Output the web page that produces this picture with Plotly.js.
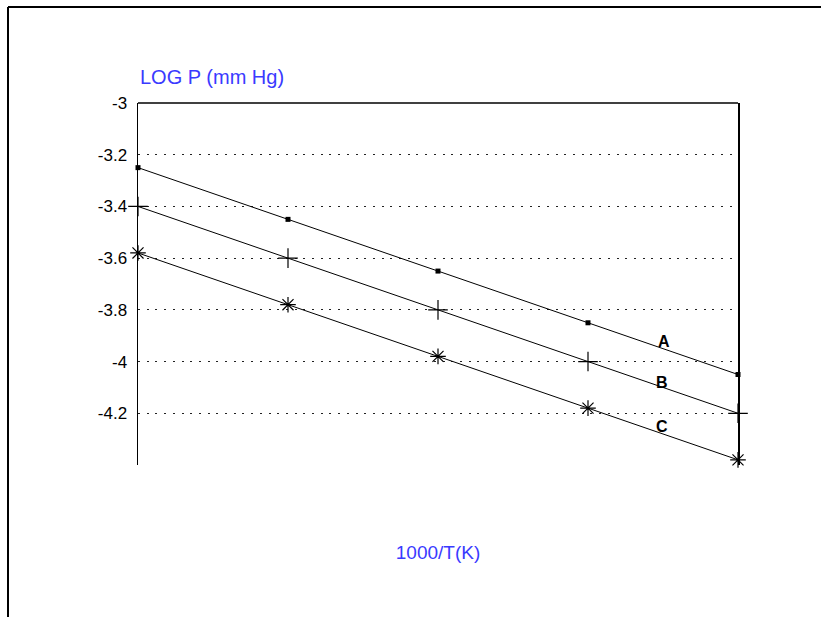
<!DOCTYPE html>
<html>
<head>
<meta charset="utf-8">
<script src="https://cdn.plot.ly/plotly-3.0.1.min.js"></script>
<style>
html,body{margin:0;padding:0;background:#fff;overflow:hidden;}
#chart{width:821px;height:617px;}
</style>
</head>
<body>
<div id="chart"></div>
<script>
const xValues = [1, 2, 3, 4, 5];
const seriesA = [-3.25, -3.45, -3.65, -3.85, -4.05];
const seriesB = [-3.40, -3.60, -3.80, -4.00, -4.20];
const seriesC = [-3.58, -3.78, -3.98, -4.18, -4.38];
const seriesNames = ["A", "B", "C"];
const labelX = [4.507, 4.493, 4.493];
const labelY = [-3.924, -4.079, -4.253];
const yTickVals = [-3, -3.2, -3.4, -3.6, -3.8, -4, -4.2];
const yTickText = ["-3", "-3.2", "-3.4", "-3.6", "-3.8", "-4", "-4.2"];
const yTitle = "LOG P (mm Hg)";
const xTitle = "1000/T(K)";

const font = "Arial, 'Liberation Sans', sans-serif";
const blue = "#3a3aff";

const traces = [
  {x: xValues, y: seriesA, name: seriesNames[0], mode: "lines+markers", cliponaxis: false,
   line: {color: "#000", width: 1},
   marker: {symbol: "square", size: 5, color: "#000"}},
  {x: xValues, y: seriesB, name: seriesNames[1], mode: "lines+markers", cliponaxis: false,
   line: {color: "#000", width: 1},
   marker: {symbol: "cross-thin-open", size: 14, color: "#000", line: {color: "#000", width: 1.2}}},
  {x: xValues, y: seriesC, name: seriesNames[2], mode: "lines+markers", cliponaxis: false,
   line: {color: "#000", width: 1},
   marker: {symbol: "asterisk-open", size: 13, color: "#000", line: {color: "#000", width: 1.2}}}
];

const annotations = seriesNames.map((n, i) => ({
  x: labelX[i], y: labelY[i], xref: "x", yref: "y", text: "<b>" + n + "</b>",
  showarrow: false, font: {family: font, size: 16, color: "#000"}
}));
annotations.push({
  x: 0, y: (465 - 77) / 362, xref: "paper", yref: "paper", xanchor: "left", yanchor: "middle",
  text: yTitle, showarrow: false, font: {family: font, size: 20, color: blue}
});

const layout = {
  width: 821, height: 617,
  margin: {l: 138, r: 83, t: 103, b: 152},
  paper_bgcolor: "#fff", plot_bgcolor: "#fff",
  showlegend: false,
  xaxis: {
    range: [1, 5], showgrid: false, zeroline: false, showticklabels: false, ticks: "",
    showline: false,
    title: {text: xTitle, font: {family: font, size: 19, color: blue}, standoff: 80}
  },
  yaxis: {
    range: [-4.4, -3], tickvals: yTickVals, ticktext: yTickText, ticks: "",
    showline: true, mirror: true, linecolor: "#000", linewidth: 1.5,
    showgrid: true, gridcolor: "#222", gridwidth: 1, griddash: "2px,6.7px",
    zeroline: false,
    tickfont: {family: font, size: 17, color: "#000"}, ticklabelstandoff: 6
  },
  annotations: annotations,
  shapes: [
    {type: "line", xref: "paper", yref: "paper", x0: 0, x1: 1, y0: 1, y1: 1,
     line: {color: "#000", width: 1.5}},
    {type: "line", xref: "paper", yref: "paper", x0: (8 - 138) / 600, x1: (8 - 138) / 600,
     y0: (465 - 7) / 362, y1: (465 - 617) / 362, line: {color: "#000", width: 2}},
    {type: "line", xref: "paper", yref: "paper", x0: (8 - 138) / 600, x1: (821 - 138) / 600,
     y0: (465 - 7) / 362, y1: (465 - 7) / 362, line: {color: "#000", width: 2}}
  ]
};

Plotly.newPlot("chart", traces, layout, {staticPlot: true, displayModeBar: false});
</script>
</body>
</html>
